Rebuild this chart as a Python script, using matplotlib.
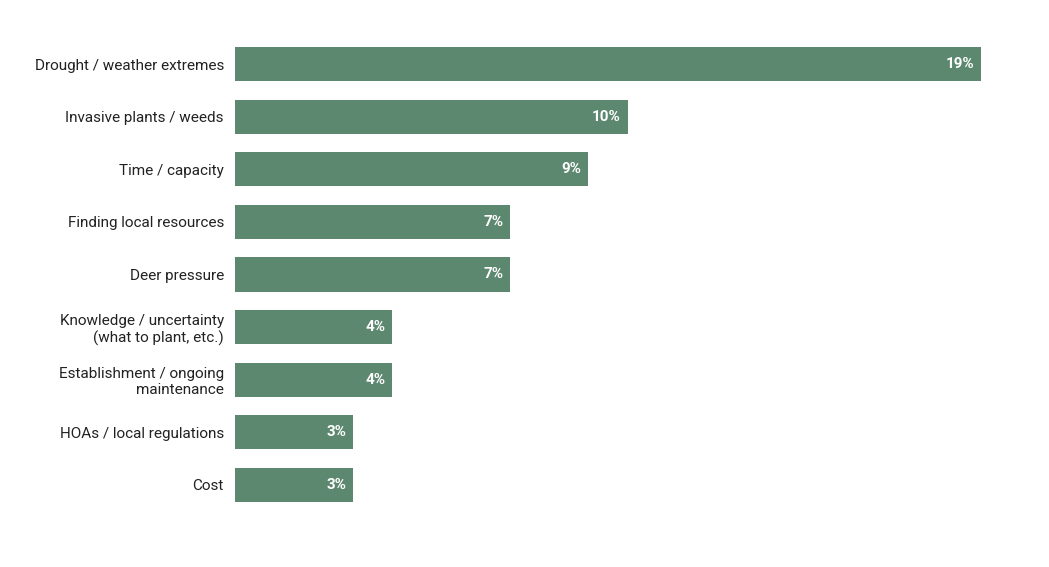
import matplotlib
matplotlib.use("Agg")
import matplotlib.pyplot as plt

categories = ["Drought / weather extremes", "Invasive plants / weeds", "Time / capacity",
              "Finding local resources", "Deer pressure",
              "Knowledge / uncertainty\n(what to plant, etc.)",
              "Establishment / ongoing\nmaintenance", "HOAs / local regulations", "Cost"]
values = [19, 10, 9, 7, 7, 4, 4, 3, 3]

plt.rcParams['font.family'] = ['Roboto', 'DejaVu Sans']
fig = plt.figure(figsize=(10.49, 5.67), dpi=100)
ax = fig.add_axes([235/1049, 1-511.3/567, 785/1049, (511.3-37.7)/567])
ys = list(range(len(categories)))
ax.barh(ys, values, height=0.65, color="#5d8870")
for y, v in zip(ys, values):
    ax.text(v - 0.17, y, f"{v}%", ha="right", va="center", color="white",
            fontsize=11, fontweight="bold")
ax.set_xlim(0, 20)
ax.set_ylim(len(categories) - 0.5, -0.5)
ax.set_yticks(ys)
ax.set_yticklabels(categories, fontsize=11, color="#222222")
ax.tick_params(axis="y", length=0, pad=8)
ax.set_xticks([])
for s in ax.spines.values():
    s.set_visible(False)
fig.savefig("out.png", dpi=100, facecolor="white")
